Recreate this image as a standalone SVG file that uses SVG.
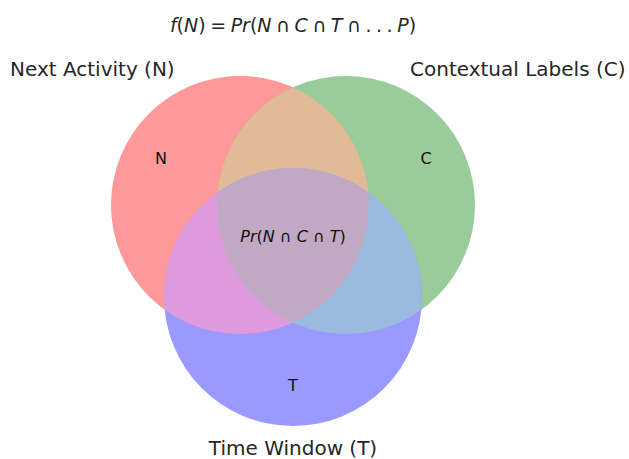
<svg xmlns="http://www.w3.org/2000/svg" width="629" height="459" viewBox="0 0 629 459">
  <style>
    text { font-family: "DejaVu Sans", "Liberation Sans", sans-serif; fill: #262626; }
    .set-label { font-size: 20px; }
    .region-label { font-size: 16px; text-anchor: middle; fill: #111; }
    .math { font-size: 19px; word-spacing: -1.5px; }
    .it { font-style: italic; }
  </style>
  <defs>
    <clipPath id="clipN"><circle cx="240" cy="205" r="129"/></clipPath>
    <clipPath id="clipC"><circle cx="346" cy="205" r="129"/></clipPath>
    <clipPath id="clipT"><circle cx="293" cy="297" r="129"/></clipPath>
    <clipPath id="clipNC" clip-path="url(#clipN)"><circle cx="346" cy="205" r="129"/></clipPath>
  </defs>
  <rect width="629" height="459" fill="#ffffff"/>

  <!-- set circles -->
  <g id="set-N"><circle cx="240" cy="205" r="129" fill="#ff9999"/></g>
  <g id="set-C"><circle cx="346" cy="205" r="129" fill="#99cc99"/></g>
  <g id="set-T"><circle cx="293" cy="297" r="129" fill="#9999ff"/></g>

  <!-- pairwise and triple overlaps -->
  <g id="region-NC"><circle cx="346" cy="205" r="129" fill="#e0bb96" clip-path="url(#clipN)"/></g>
  <g id="region-NT"><circle cx="293" cy="297" r="129" fill="#df9ade" clip-path="url(#clipN)"/></g>
  <g id="region-CT"><circle cx="293" cy="297" r="129" fill="#99bbe0" clip-path="url(#clipC)"/></g>
  <g id="region-NCT"><circle cx="293" cy="297" r="129" fill="#c1a9c4" clip-path="url(#clipNC)"/></g>

  <g id="connectors"></g>

  <!-- title -->
  <text class="math" x="293" y="32" text-anchor="middle"><tspan class="it">f</tspan>(<tspan class="it">N</tspan>) = <tspan class="it">Pr</tspan>(<tspan class="it">N</tspan> ∩ <tspan class="it">C</tspan> ∩ <tspan class="it">T</tspan> ∩ . . . <tspan class="it">P</tspan>)</text>

  <!-- set labels -->
  <text class="set-label" x="10" y="76">Next Activity (N)</text>
  <text class="set-label" x="410" y="76">Contextual Labels (C)</text>
  <text class="set-label" x="293" y="455" text-anchor="middle">Time Window (T)</text>

  <!-- region labels -->
  <text class="region-label" x="161" y="164">N</text>
  <text class="region-label" x="426" y="164">C</text>
  <text class="region-label" x="293" y="391">T</text>
  <text class="region-label" x="293" y="242"><tspan class="it">Pr</tspan>(<tspan class="it">N</tspan> ∩ <tspan class="it">C</tspan> ∩ <tspan class="it">T</tspan>)</text>
</svg>
